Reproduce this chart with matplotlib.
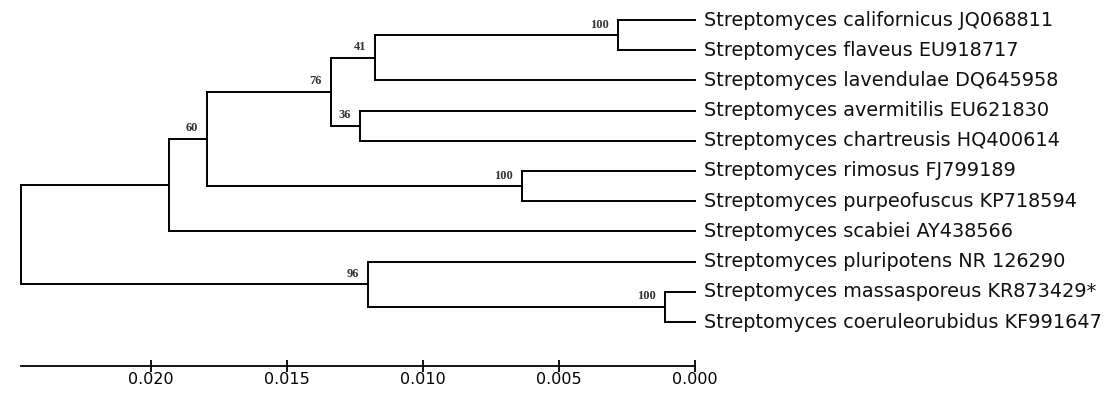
"""UPGMA tree of Streptomyces 16S sequences with bootstrap values."""

import matplotlib
matplotlib.use("Agg")
import matplotlib.pyplot as plt
from matplotlib.ticker import FormatStrFormatter

leaves = [
    "Streptomyces californicus JQ068811",
    "Streptomyces flaveus EU918717",
    "Streptomyces lavendulae DQ645958",
    "Streptomyces avermitilis EU621830",
    "Streptomyces chartreusis HQ400614",
    "Streptomyces rimosus FJ799189",
    "Streptomyces purpeofuscus KP718594",
    "Streptomyces scabiei AY438566",
    "Streptomyces pluripotens NR 126290",
    "Streptomyces massasporeus KR873429*",
    "Streptomyces coeruleorubidus KF991647",
]

# internal nodes: children (leaf index or node name), height, bootstrap
node_names = ["cal_fla", "lav", "ave_cha", "n76", "rim_pur", "n60",
              "sca", "mas_coe", "n96", "root"]
node_children = [(0, 1), ("cal_fla", 2), (3, 4), ("lav", "ave_cha"), (5, 6),
                 ("n76", "rim_pur"), ("n60", 7), (9, 10), (8, "mas_coe"),
                 ("sca", "n96")]
node_heights = [0.00283, 0.01176, 0.01232, 0.01338, 0.00636, 0.01794,
                0.01934, 0.00110, 0.01202, 0.02478]
bootstrap = [100, 41, 36, 76, 100, 60, None, 100, 96, None]

scale_ticks = [0.020, 0.015, 0.010, 0.005, 0.000]

fig = plt.figure(figsize=(11.08, 3.94), dpi=100)
ax = fig.add_axes([0, 0, 1, 1])

pos = {i: (0.0, float(i)) for i in range(len(leaves))}
for name, (a, b), h, bs in zip(node_names, node_children, node_heights, bootstrap):
    ya, yb = pos[a][1], pos[b][1]
    y = (ya + yb) / 2
    ax.plot([h, h], [ya, yb], color="black", lw=1.4, solid_capstyle="projecting")
    for c in (a, b):
        ax.plot([h, pos[c][0]], [pos[c][1]] * 2, color="black", lw=1.4,
                solid_capstyle="projecting")
    pos[name] = (h, y)
    if bs is not None:
        ax.annotate(str(bs), (h, y), xytext=(-6.5, 7.5), textcoords="offset points",
                    ha="right", va="center", fontsize=9, family="Liberation Serif",
                    fontweight="bold", color="#333333")

for i, lab in enumerate(leaves):
    ax.annotate(lab, (0, i), xytext=(6.5, 0), textcoords="offset points",
                ha="left", va="center", fontsize=13.9, family="DejaVu Sans",
                color="#111111")

px = 27200.0  # pixels per unit distance
ax.set_xlim(0.02478 + 21 / px, -413 / px)
ax.set_ylim((394 - 20) / 30.2, -20 / 30.2)

# scale bar as the real x axis
for s in ("top", "right", "left"):
    ax.spines[s].set_visible(False)
ax.spines["bottom"].set_position(("data", (366 - 20) / 30.2))
ax.spines["bottom"].set_bounds(node_heights[-1], 0.0)
ax.spines["bottom"].set_linewidth(1.3)
ax.set_yticks([])
ax.set_xticks(scale_ticks)
ax.xaxis.set_major_formatter(FormatStrFormatter("%.3f"))
ax.tick_params(axis="x", direction="inout", length=8, width=1.3, pad=0.5,
               labelsize=11.5)
for t in ax.get_xticklabels():
    t.set_family("DejaVu Sans")

fig.savefig("out.png", dpi=100)
